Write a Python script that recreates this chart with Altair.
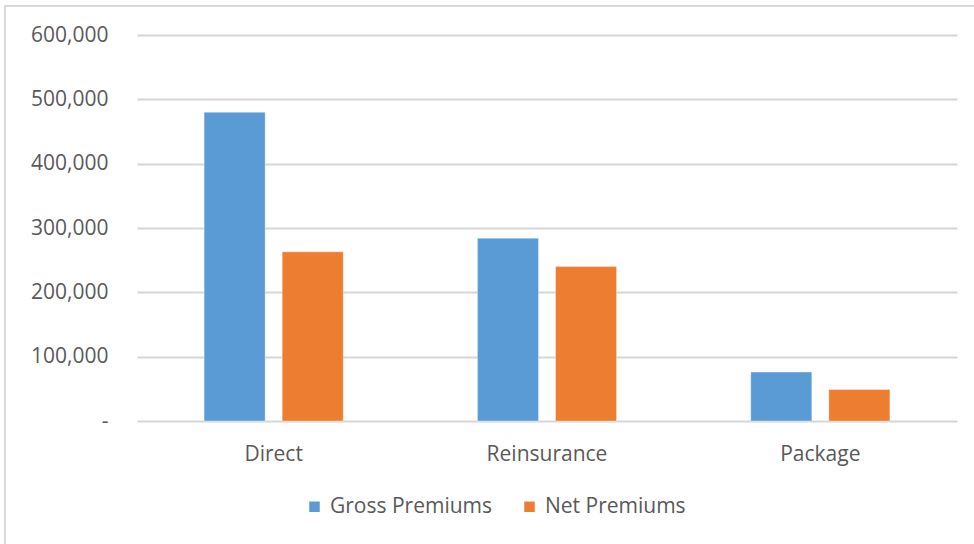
import altair as alt
import pandas as pd

# Premium totals by business line
lines = ["Direct", "Reinsurance", "Package"]
gross_premiums = [480000, 284000, 76000]
net_premiums = [263000, 240000, 49000]
series = ["Gross Premiums", "Net Premiums"]
series_colors = ["#5B9BD5", "#ED7D31"]

rows = []
for i, line in enumerate(lines):
    rows.append({"line": line, "series": series[0], "value": gross_premiums[i]})
    rows.append({"line": line, "series": series[1], "value": net_premiums[i]})
df = pd.DataFrame(rows)

FONT = "Open Sans"
TEXT = "#595959"
FS = 21

bars = (
    alt.Chart(df)
    .mark_bar(stroke="#ffffff", strokeOpacity=0.35, strokeWidth=1)
    .encode(
        x=alt.X(
            "line:N",
            sort=lines,
            title=None,
            scale=alt.Scale(paddingInner=0.491, paddingOuter=0.2455),
            axis=alt.Axis(
                labelAngle=0,
                ticks=False,
                domain=False,
                labelPadding=22,
                labelFontSize=FS,
                labelColor=TEXT,
                labelFont=FONT,
            ),
        ),
        xOffset=alt.XOffset(
            "series:N", sort=series, scale=alt.Scale(paddingInner=0.218, paddingOuter=0)
        ),
        y=alt.Y(
            "value:Q",
            title=None,
            scale=alt.Scale(domain=[0, 600000], nice=False),
            axis=alt.Axis(
                values=[0, 100000, 200000, 300000, 400000, 500000, 600000],
                labelExpr="datum.value == 0 ? '-\u00a0\u00a0\u00a0' : format(datum.value, ',')",
                ticks=False,
                domain=False,
                labelPadding=29,
                labelFontSize=FS,
                labelColor=TEXT,
                labelFont=FONT,
                gridColor="#d6d6d6",
                gridWidth=1.8,
            ),
        ),
        color=alt.Color(
            "series:N",
            sort=series,
            scale=alt.Scale(domain=series, range=series_colors),
            legend=alt.Legend(
                title=None,
                orient="none",
                direction="horizontal",
                legendX=167,
                legendY=461,
                symbolType="square",
                symbolSize=110,
                symbolStrokeWidth=0,
                symbolOpacity=1,
                labelFontSize=FS,
                labelColor=TEXT,
                labelFont=FONT,
                labelLimit=400,
                labelOffset=5,
                columnPadding=26,
                padding=0,
            ),
        ),
    )
)

# Light frame around the chart
frame = (
    alt.Chart(alt.Data(values=[{}]))
    .mark_rect(fill=None, stroke="#d9d9d9", strokeWidth=2)
    .encode(
        x=alt.value(-132),
        x2=alt.value(860),
        y=alt.value(-29),
        y2=alt.value(540),
    )
)

chart = (
    alt.layer(frame, bars)
    .properties(
        width=820,
        height=386,
        autosize=alt.AutoSizeParams(type="none"),
        padding={"left": 137, "top": 35, "right": 17, "bottom": 123},
        background="#ffffff",
    )
    .configure_view(stroke=None)
)

chart.save("out.html", embed_options={"renderer": "svg", "actions": False})
